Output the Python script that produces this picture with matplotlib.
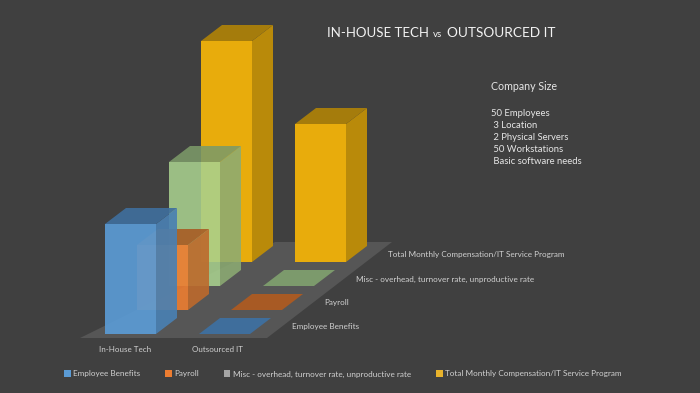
import matplotlib
matplotlib.use("Agg")
import matplotlib.pyplot as plt
from matplotlib.patches import Patch, Polygon

plt.rcParams["font.family"] = ["Lato", "DejaVu Sans"]

categories = ["In-House Tech", "Outsourced IT"]
series = [
    "Employee Benefits",
    "Payroll",
    "Misc - overhead, turnover rate, unproductive rate",
    "Total Monthly Compensation/IT Service Program",
]
# no value axis in the picture, so heights are read as relative units
employee_benefits = [110, 0]
payroll = [65, 0]
misc = [124, 0]
total = [221, 138]
all_values = [employee_benefits, payroll, misc, total]

info_lines = ["50 Employees", " 3 Location", " 2 Physical Servers", " 50 Workstations", " Basic software needs"]

# front, side, top, flat tile colours and opacity per series
face_colors = [
    ("#5B9BD5", "#4A80B2", "#3F6E9C", "#3F6E9C", 0.92),
    ("#ED7D31", "#BD6A2C", "#A85C24", "#A85A24", 0.9),
    ("#A9D18E", "#8CAB73", "#7C9A68", "#7C9A6C", 0.88),
    ("#E8AC0C", "#B98A0A", "#A57C0C", "#A57C0C", 1.0),
]
legend_colors = ["#5B9BD5", "#ED7D31", "#A5A5A5", "#E8B32C"]

BG = "#404040"
TEXT = "#D0D0D0"

# oblique layout of the floor, in pixels
X0, Y0 = 105, 334
CAT_STEP = 94
SER_DX, SER_DY = 32, -24
BAR_W = 51
DEPTH_DX, DEPTH_DY = 21, -16


def corner(cat, ser, width=0, depth=0, height=0):
    x = X0 + cat * CAT_STEP + ser * SER_DX + width * BAR_W + depth * DEPTH_DX
    y = Y0 + ser * SER_DY + depth * DEPTH_DY - height
    return (x, y)


fig = plt.figure(figsize=(7, 3.93), dpi=100, facecolor=BG)
ax = fig.add_axes([0, 0, 1, 1])
ax.set_xlim(0, 700)
ax.set_ylim(393, 0)
ax.axis("off")

# floor
ax.add_patch(Polygon([(80, 338), (267, 338), (392, 242), (275, 242)], fc="#565656", ec="none", zorder=1))

# back series first so the see-through bars sit over them
z = 2
for ser in range(len(series) - 1, -1, -1):
    front, side, top, tile, alpha = face_colors[ser]
    for cat in range(len(categories)):
        h = all_values[ser][cat]
        top_face = [corner(cat, ser, 0, 0, h), corner(cat, ser, 1, 0, h), corner(cat, ser, 1, 1, h), corner(cat, ser, 0, 1, h)]
        if h == 0:
            ax.add_patch(Polygon(top_face, fc=tile, ec="none", zorder=z))
            continue
        front_face = [corner(cat, ser), corner(cat, ser, 1), corner(cat, ser, 1, 0, h), corner(cat, ser, 0, 0, h)]
        side_face = [corner(cat, ser, 1), corner(cat, ser, 1, 1), corner(cat, ser, 1, 1, h), corner(cat, ser, 1, 0, h)]
        ax.add_patch(Polygon(side_face, fc=side, ec="none", alpha=alpha, zorder=z))
        ax.add_patch(Polygon(top_face, fc=top, ec="none", alpha=alpha, zorder=z))
        ax.add_patch(Polygon(front_face, fc=front, ec="none", alpha=alpha, zorder=z + 0.5))
    z += 1

# axis labels
for cat, name in enumerate(categories):
    ax.text(corner(cat, 0)[0] + 20 - cat * 2, 349, name, color=TEXT, fontsize=5.8, ha="center", va="center")
for ser, name in enumerate(series):
    ax.text(292 + ser * SER_DX, 326 + ser * SER_DY + (ser > 0), name, color=TEXT, fontsize=5.9, ha="left", va="center")

# title in three pieces, the "vs" is smaller
ax.text(327, 33, "IN-HOUSE TECH", color="#F2F2F2", fontsize=9.5, ha="left", va="center")
ax.text(433, 34.5, "vs", color="#F2F2F2", fontsize=7, ha="left", va="center")
ax.text(447, 33, "OUTSOURCED IT", color="#F2F2F2", fontsize=9.8, ha="left", va="center")

ax.text(491, 87, "Company Size", color="#E6E6E6", fontsize=7.7, ha="left", va="center")
for i, line in enumerate(info_lines):
    ax.text(491, 113 + i * 12.2, line, color="#E6E6E6", fontsize=6.85, ha="left", va="center")

handles = [Patch(fc=c, ec="none") for c in legend_colors]
leg = ax.legend(handles, series, ncol=4, loc="center left", bbox_to_anchor=(64 / 700, 1 - 374 / 393),
                frameon=False, fontsize=5.9, labelcolor=TEXT, handlelength=0.8, handleheight=0.8,
                handletextpad=0.35, columnspacing=3.0, borderpad=0, borderaxespad=0)

fig.savefig("out.png", dpi=100, facecolor=BG)
